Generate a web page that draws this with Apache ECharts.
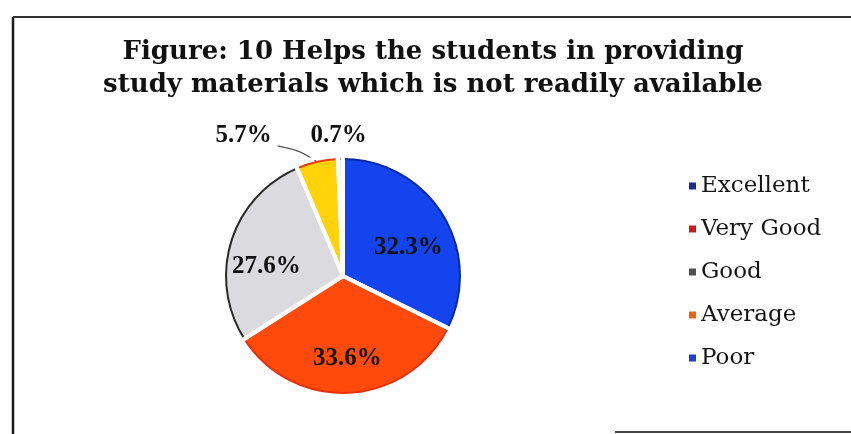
<!DOCTYPE html>
<html><head><meta charset="utf-8">
<script src="https://cdn.jsdelivr.net/npm/echarts@6/dist/echarts.min.js"></script>
<style>html,body{margin:0;padding:0;background:#fff}#c{width:851px;height:434px}</style>
</head><body><div id="c"></div>
<script>
// ---- data ----
const titleLines = ['Figure: 10 Helps the students in providing', 'study materials which is not readily available'];
const categories = ['Excellent', 'Very Good', 'Good', 'Average', 'Poor'];
const values = [32.3, 33.6, 27.6, 5.7, 0.7];

// ---- styles ----
const sliceColors = ['#1444EE', '#FF4A0C', '#DADADF', '#FFD20A', '#E4E8EC'];
const sliceBorders = ['#0A2AA8', '#E8300A', '#2A2A2A', '#F03A10', '#9AA0A8'];
const legendColors = ['#1C2C8A', '#C81C1C', '#505050', '#F06010', '#2040C8'];
const labelPos = ['inside', 'inside', 'inside', 'outside', 'inside'];
const showLeader = [false, false, false, true, false];
const labelShift = [[13, 4], [1, 21], [-18, 9], [-6, -7], [-3, -79]];

const titleFont = '"DejaVu Serif", "Liberation Serif", serif';
const labelFont = '"Liberation Serif", "DejaVu Serif", serif';

const chart = echarts.init(document.getElementById('c'), null, {renderer: 'canvas'});

const mainData = categories.map((name, i) => ({
  name: name,
  value: values[i],
  itemStyle: {color: sliceColors[i], borderColor: sliceBorders[i], borderWidth: 2},
  label: {position: labelPos[i]},
  labelLine: {show: showLeader[i], lineStyle: {color: '#555', width: 1.2}}
}));

const gapData = categories.map((name, i) => ({name: name, value: values[i]}));

chart.setOption({
  animation: false,
  backgroundColor: '#fff',
  title: {
    text: titleLines.join('\n'),
    left: 428, top: 31, textAlign: 'center',
    textStyle: {fontFamily: titleFont, fontWeight: 'bold', fontSize: 26, lineHeight: 33, color: '#111'}
  },
  legend: {
    orient: 'vertical', left: 684, top: 168,
    icon: 'rect', itemWidth: 7, itemHeight: 7, itemGap: 17, itemTextGap: 6,
    textStyle: {fontFamily: titleFont, fontSize: 23, lineHeight: 26, color: '#151515'},
    data: categories.map((name, i) => ({name: name, itemStyle: {color: legendColors[i], borderWidth: 0}}))
  },
  graphic: [
    {type: 'line', shape: {x1: 13, y1: 17, x2: 13, y2: 434}, style: {stroke: '#1a1a1a', lineWidth: 2.5}},
    {type: 'line', shape: {x1: 13, y1: 17, x2: 851, y2: 17}, style: {stroke: '#333', lineWidth: 2}},
    {type: 'line', shape: {x1: 615, y1: 432, x2: 851, y2: 432}, style: {stroke: '#444', lineWidth: 2}}
  ],
  series: [
    {
      type: 'pie', center: [343, 276], radius: 117, startAngle: 90, clockwise: true,
      data: mainData,
      label: {
        show: true, formatter: '{c}%', fontFamily: labelFont, fontWeight: 'bold', fontSize: 25, color: '#111'
      },
      labelLine: {length: 20, length2: 30, smooth: true},
      labelLayout: function (params) {
        const s = labelShift[params.dataIndex];
        const out = {dx: s[0], dy: s[1]};
        if (params.labelLinePoints && showLeader[params.dataIndex]) {
          const p0 = params.labelLinePoints[0];
          const r = params.labelRect;
          const end = [r.x + r.width + s[0] + 6, r.y + r.height + s[1] - 2];
          const mid = [(p0[0] + end[0]) / 2 + 3, (p0[1] + end[1]) / 2 - 3];
          out.labelLinePoints = [p0, mid, end];
        }
        return out;
      }
    },
    {
      type: 'pie', center: [343, 276], radius: 121, startAngle: 90, clockwise: true,
      silent: true, z: 3,
      data: gapData,
      itemStyle: {color: 'rgba(0,0,0,0)', borderColor: '#fff', borderWidth: 4},
      label: {show: false}, labelLine: {show: false}
    }
  ]
});
</script>
</body></html>
